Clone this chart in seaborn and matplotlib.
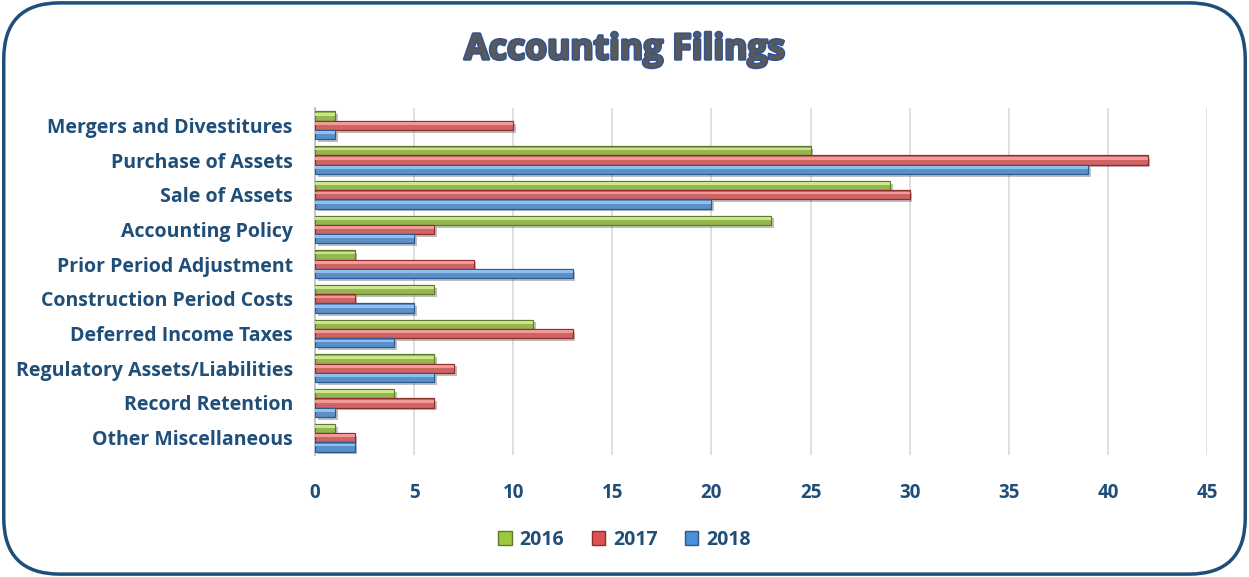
import pandas as pd
import matplotlib
matplotlib.use("Agg")
import matplotlib.pyplot as plt
import matplotlib.patheffects as pe
from matplotlib.patches import FancyBboxPatch, Patch, Rectangle
import seaborn as sns

# Dados do gráfico
categorias = ["Mergers and Divestitures", "Purchase of Assets", "Sale of Assets",
              "Accounting Policy", "Prior Period Adjustment", "Construction Period Costs",
              "Deferred Income Taxes", "Regulatory Assets/Liabilities", "Record Retention",
              "Other Miscellaneous"]
anos = ["2016", "2017", "2018"]
v2016 = [1, 25, 29, 23, 2, 6, 11, 6, 4, 1]
v2017 = [10, 42, 30, 6, 8, 2, 13, 7, 6, 2]
v2018 = [1, 39, 20, 5, 13, 5, 4, 6, 1, 2]

df = pd.DataFrame({"categoria": categorias * 3,
                   "ano": [a for a in anos for _ in categorias],
                   "valor": v2016 + v2017 + v2018})

AZUL_ESCURO = "#1F4E79"
cores = {"2016": "#9CC83F", "2017": "#E05252", "2018": "#4A8FD8"}
claras = {"2016": "#CBE68A", "2017": "#F29A9A", "2018": "#8EC0F2"}
bordas = {"2016": "#5F7A2A", "2017": "#8E2E2C", "2018": "#2A5A8E"}

sns.set_theme(style="white")
plt.rcParams["font.family"] = ["Open Sans", "DejaVu Sans"]

fig = plt.figure(figsize=(12.49, 5.77), dpi=100)
ax = fig.add_axes([0.2522, 0.2114, 0.7142, 0.6014])

sns.barplot(data=df, y="categoria", x="valor", hue="ano", palette=cores,
            orient="h", width=0.8, ax=ax, legend=False, zorder=3)

# Efeito de brilho nas barras (faixa clara em cima)
for cont, ano in zip(ax.containers, anos):
    for barra in cont:
        barra.set_edgecolor(bordas[ano])
        barra.set_linewidth(0.9)
        barra.set_path_effects([pe.SimplePatchShadow(offset=(2, -2), alpha=0.3),
                                pe.Normal()])
        x0, y0 = barra.get_x(), barra.get_y()
        w, h = barra.get_width(), barra.get_height()
        ax.add_patch(Rectangle((x0, y0 + h * 0.15), w, h * 0.3, facecolor=claras[ano],
                               edgecolor="none", zorder=4))

ax.set_xlim(0, 45)
ax.set_xticks(range(0, 46, 5))
ax.set_xlabel("")
ax.set_ylabel("")
ax.grid(axis="x", color="#D9D9D9", linewidth=1.2, zorder=0)
ax.set_axisbelow(True)
for lado in ["top", "right", "bottom"]:
    ax.spines[lado].set_visible(False)
ax.spines["left"].set_color("#BFBFBF")
ax.tick_params(axis="x", length=0, pad=20, labelsize=13.5, labelcolor=AZUL_ESCURO)
ax.tick_params(axis="y", length=0, pad=16, labelsize=14, labelcolor=AZUL_ESCURO)
for t in ax.get_xticklabels() + ax.get_yticklabels():
    t.set_fontweight("bold")

# Título com contorno
fig.text(0.5, 0.913, "Accounting Filings", ha="center", va="center", fontsize=25.5,
         fontweight="bold", color="#595959",
         path_effects=[pe.withStroke(linewidth=2.2, foreground="#2F5597")])

# Legenda
handles = [Patch(facecolor=cores[a], edgecolor=bordas[a], label=a) for a in anos]
leg = fig.legend(handles=handles, loc="center", bbox_to_anchor=(0.5, 0.064), ncol=3,
                 frameon=False, handlelength=0.7, handleheight=0.7, handletextpad=0.4,
                 columnspacing=1.4, prop={"weight": "bold", "size": 14})
for t in leg.get_texts():
    t.set_color(AZUL_ESCURO)

# Borda arredondada
borda = FancyBboxPatch((0.003, 0.005), 0.994, 0.99, boxstyle="round,pad=0,rounding_size=0.045",
                       transform=fig.transFigure, facecolor="none", edgecolor=AZUL_ESCURO,
                       linewidth=2.5, mutation_aspect=1249 / 577)
fig.patches.append(borda)

fig.savefig("out.png", dpi=100)
